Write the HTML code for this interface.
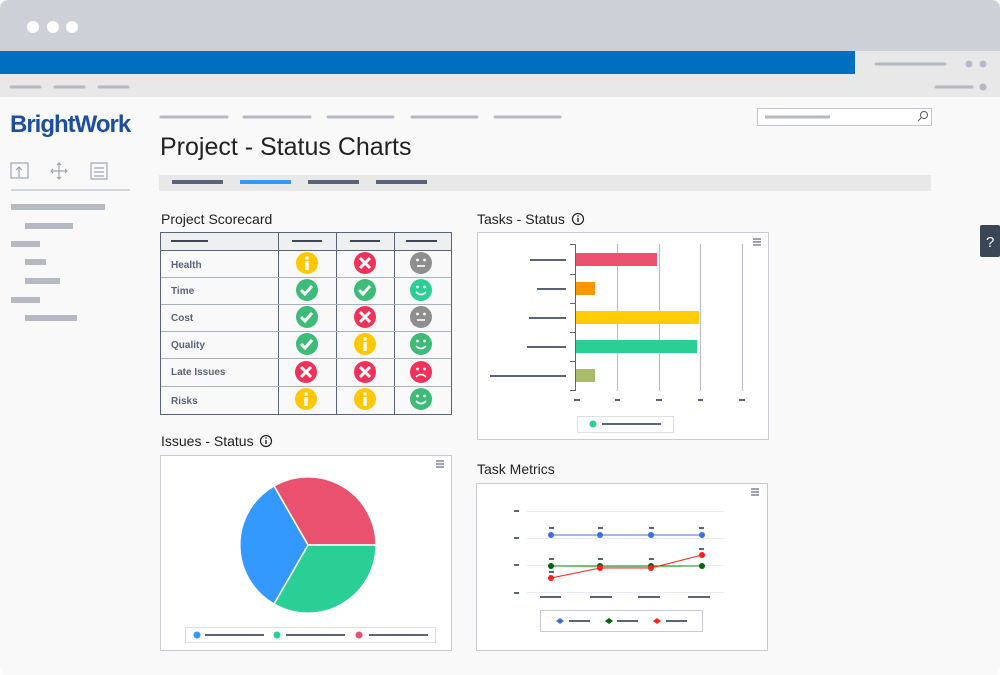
<!DOCTYPE html>
<html><head><meta charset="utf-8"><style>
html,body{margin:0;padding:0;background:#fff}
svg{display:block}
text{font-family:"Liberation Sans",sans-serif}
</style></head><body>
<svg width="1000" height="675" viewBox="0 0 1000 675" xmlns="http://www.w3.org/2000/svg">
<rect x="0" y="0" width="1000" height="675" rx="8" fill="#f9f9f9"/>
<path d="M0 8 a8 8 0 0 1 8 -8 H992 a8 8 0 0 1 8 8 V51 H0Z" fill="#cdd0d7"/>
<circle cx="33" cy="27" r="6" fill="#fff"/><circle cx="53" cy="27" r="6" fill="#fff"/><circle cx="72" cy="27" r="6" fill="#fff"/>
<rect x="0" y="51" width="1000" height="46" fill="#e8e8e8"/>
<rect x="0" y="51" width="855" height="23" fill="#006fc0"/>
<g stroke="#b5b9c2" stroke-width="3" stroke-linecap="round">
<line x1="876" y1="64" x2="945" y2="64"/><line x1="936" y1="87" x2="972" y2="87"/>
<line x1="11" y1="87" x2="40" y2="87"/><line x1="55" y1="87" x2="84" y2="87"/><line x1="99" y1="87" x2="128" y2="87"/>
<line x1="161" y1="117" x2="227" y2="117"/><line x1="244" y1="117" x2="310" y2="117"/><line x1="328" y1="117" x2="393" y2="117"/><line x1="412" y1="117" x2="477" y2="117"/><line x1="495" y1="117" x2="560" y2="117"/>
</g>
<g fill="#b5b9c2"><circle cx="969" cy="64" r="3.5"/><circle cx="983" cy="64" r="3.5"/><circle cx="983" cy="87" r="3.5"/></g>
<text x="10" y="132" font-size="24" font-weight="bold" fill="#1d4f9c" letter-spacing="-1">BrightWork</text>
<g fill="none" stroke="#a0a6b0" stroke-width="1.2">
<rect x="11" y="163" width="17" height="15"/><path d="M19 177v-10m-3 3 3-3 3 3"/>
<path d="M59 163v16M51 171h16M57 165l2-2 2 2M57 177l2 2 2-2M53 169l-2 2 2 2M65 169l2 2-2 2"/>
<rect x="91" y="163" width="16" height="16"/><path d="M94 168h10M94 172h10M94 176h10"/>
</g>
<line x1="11" y1="190" x2="130" y2="190" stroke="#a9b1c1" stroke-width="1"/>
<g stroke="#b5b9c2" stroke-width="6">
<line x1="11" y1="207" x2="105" y2="207"/><line x1="25" y1="226" x2="73" y2="226"/><line x1="11" y1="244" x2="40" y2="244"/><line x1="25" y1="262" x2="46" y2="262"/><line x1="25" y1="281" x2="60" y2="281"/><line x1="11" y1="300" x2="40" y2="300"/><line x1="25" y1="318" x2="77" y2="318"/>
</g>
<text x="160" y="155" font-size="25" fill="#222">Project - Status Charts</text>
<rect x="757.5" y="108.5" width="174" height="17" fill="#fff" stroke="#c3c6cc"/>
<line x1="765" y1="117" x2="830" y2="117" stroke="#b5b9c2" stroke-width="3"/>
<circle cx="924" cy="115" r="3.5" fill="none" stroke="#555" stroke-width="1"/><line x1="921" y1="118" x2="918" y2="121" stroke="#555"/>
<rect x="159" y="175" width="772" height="16" fill="#e8e8e8"/>
<g stroke-width="4"><line x1="172" y1="182" x2="223" y2="182" stroke="#5a6478"/><line x1="240" y1="182" x2="291" y2="182" stroke="#3399ff"/><line x1="308" y1="182" x2="359" y2="182" stroke="#5a6478"/><line x1="376" y1="182" x2="427" y2="182" stroke="#5a6478"/></g>
<rect x="980" y="225" width="20" height="32" rx="2" fill="#3a4556"/>
<text x="986" y="247" font-size="15" fill="#fff">?</text>
<text x="161" y="224" font-size="14" fill="#222">Project Scorecard</text>
<rect x="160.5" y="232.5" width="291" height="18" fill="#eeeff1"/>
<rect x="160.5" y="232.5" width="291" height="182" fill="none" stroke="#5a6478"/>
<g stroke="#5a6478"><line x1="278.5" y1="232" x2="278.5" y2="414"/><line x1="336.5" y1="232" x2="336.5" y2="414"/><line x1="394.5" y1="232" x2="394.5" y2="414"/><line x1="160" y1="250.5" x2="451" y2="250.5"/></g>
<g stroke="#a9b1bf"><line x1="161" y1="277.5" x2="451" y2="277.5"/><line x1="161" y1="304.5" x2="451" y2="304.5"/><line x1="161" y1="331.5" x2="451" y2="331.5"/><line x1="161" y1="358.5" x2="451" y2="358.5"/><line x1="161" y1="386.5" x2="451" y2="386.5"/></g>
<g stroke="#3f4757" stroke-width="2"><line x1="171" y1="241" x2="208" y2="241"/><line x1="292" y1="241" x2="322" y2="241"/><line x1="350" y1="241" x2="380" y2="241"/><line x1="406" y1="241" x2="437" y2="241"/></g>
<g font-size="10" font-weight="bold" fill="#5a6478">
<text x="171" y="268">Health</text><text x="171" y="294">Time</text><text x="171" y="321">Cost</text><text x="171" y="348">Quality</text><text x="171" y="375">Late Issues</text><text x="171" y="404">Risks</text></g>
<defs>
<g id="info"><circle r="11" fill="#ffc800"/><circle cy="-5" r="1.8" fill="#fff"/><rect x="-1.7" y="-2" width="3.4" height="9" fill="#fff"/></g>
<g id="x"><circle r="11" fill="#f0325a"/><path d="M-5-5L5 5M5-5L-5 5" stroke="#fff" stroke-width="3"/></g>
<g id="chk"><circle r="11" fill="#3dbb78"/><path d="M-6 0l4 4 7-8" fill="none" stroke="#fff" stroke-width="3"/></g>
<g id="neu"><circle r="11" fill="#8e8e8e"/><circle cx="-3.5" cy="-3" r="1.4" fill="#fff"/><circle cx="3.5" cy="-3" r="1.4" fill="#fff"/><line x1="-4" y1="3" x2="4" y2="3" stroke="#fff" stroke-width="1.6"/></g>
<g id="smT"><circle r="11" fill="#2bcf96"/><circle cx="-3.5" cy="-3" r="1.4" fill="#fff"/><circle cx="3.5" cy="-3" r="1.4" fill="#fff"/><path d="M-5 2q5 5 10 0" fill="none" stroke="#fff" stroke-width="1.6"/></g>
<g id="smG"><circle r="11" fill="#3dbb78"/><circle cx="-3.5" cy="-3" r="1.4" fill="#fff"/><circle cx="3.5" cy="-3" r="1.4" fill="#fff"/><path d="M-5 2q5 5 10 0" fill="none" stroke="#fff" stroke-width="1.6"/></g>
<g id="sad"><circle r="11" fill="#f0325a"/><circle cx="-3.5" cy="-3" r="1.4" fill="#fff"/><circle cx="3.5" cy="-3" r="1.4" fill="#fff"/><path d="M-5 5q5-5 10 0" fill="none" stroke="#fff" stroke-width="1.6"/></g>
<g id="menu" stroke="#5a6478" stroke-width="1.2"><line x1="-4" y1="-3" x2="4" y2="-3"/><line x1="-4" y1="0" x2="4" y2="0"/><line x1="-4" y1="3" x2="4" y2="3"/></g>
<g id="ii"><circle r="5.5" fill="none" stroke="#222" stroke-width="1.2"/><rect x="-0.7" y="-1" width="1.4" height="4" fill="#222"/><circle cy="-3" r="0.8" fill="#222"/></g>
</defs>
<use href="#info" x="307" y="263"/><use href="#x" x="365" y="263"/><use href="#neu" x="421" y="263"/>
<use href="#chk" x="307" y="290"/><use href="#chk" x="365" y="290"/><use href="#smT" x="421" y="290"/>
<use href="#chk" x="307" y="317"/><use href="#x" x="365" y="317"/><use href="#neu" x="421" y="317"/>
<use href="#chk" x="307" y="344"/><use href="#info" x="365" y="344"/><use href="#smG" x="421" y="344"/>
<use href="#x" x="306" y="372"/><use href="#x" x="365" y="372"/><use href="#sad" x="421" y="372"/>
<use href="#info" x="306" y="399"/><use href="#info" x="365" y="399"/><use href="#smG" x="421" y="399"/>
<text x="477" y="224" font-size="14" fill="#222">Tasks - Status</text><use href="#ii" x="578" y="219"/>
<rect x="477.5" y="232.5" width="291" height="207" fill="#fff" stroke="#c8ccd2"/>
<use href="#menu" x="757" y="242"/>
<g stroke="#b8bcc3"><line x1="617.5" y1="244" x2="617.5" y2="391"/><line x1="659.5" y1="244" x2="659.5" y2="391"/><line x1="700.5" y1="244" x2="700.5" y2="391"/><line x1="742.5" y1="244" x2="742.5" y2="391"/></g>
<g stroke="#5a6478"><line x1="575.5" y1="244" x2="575.5" y2="391"/><line x1="570" y1="244.5" x2="575" y2="244.5"/><line x1="570" y1="274.5" x2="575" y2="274.5"/><line x1="570" y1="303.5" x2="575" y2="303.5"/><line x1="570" y1="332.5" x2="575" y2="332.5"/><line x1="570" y1="361.5" x2="575" y2="361.5"/><line x1="570" y1="390.5" x2="575" y2="390.5"/></g>
<rect x="576" y="253" width="81" height="13" fill="#e9516e"/>
<rect x="576" y="282" width="19" height="13" fill="#ff9800"/>
<rect x="576" y="311" width="123" height="13" fill="#ffcc00"/>
<rect x="576" y="340" width="121" height="13" fill="#2acf96"/>
<rect x="576" y="369" width="19" height="13" fill="#a9bb6c"/>
<g stroke="#5a6478" stroke-width="2"><line x1="530" y1="260" x2="566" y2="260"/><line x1="537" y1="289" x2="566" y2="289"/><line x1="529" y1="318" x2="566" y2="318"/><line x1="527" y1="347" x2="566" y2="347"/><line x1="490" y1="376" x2="566" y2="376"/>
<line x1="574" y1="400" x2="580" y2="400"/><line x1="615" y1="400" x2="620" y2="400"/><line x1="656" y1="400" x2="662" y2="400"/><line x1="698" y1="400" x2="703" y2="400"/><line x1="739" y1="400" x2="745" y2="400"/></g>
<rect x="577.5" y="416.5" width="96" height="16" fill="#fff" stroke="#dcdfe3"/>
<circle cx="593" cy="424" r="3.5" fill="#2acf96"/><line x1="602" y1="424" x2="661" y2="424" stroke="#5a6478" stroke-width="2"/>
<text x="161" y="446" font-size="14" fill="#222">Issues - Status</text><use href="#ii" x="266" y="441"/>
<rect x="160.5" y="455.5" width="291" height="195" fill="#fff" stroke="#c8ccd2"/>
<use href="#menu" x="440" y="464"/>
<g stroke="#fff" stroke-width="1.5">
<path d="M308 545L274 486A68 68 0 0 1 376 545Z" fill="#e9516e"/>
<path d="M308 545L376 545A68 68 0 0 1 274 604Z" fill="#2acf96"/>
<path d="M308 545L274 604A68 68 0 0 1 274 486Z" fill="#3399ff"/></g>
<rect x="185.5" y="627.5" width="250" height="15" fill="#fff" stroke="#dcdfe3"/>
<circle cx="197" cy="635" r="3.5" fill="#3399ff"/><circle cx="277" cy="635" r="3.5" fill="#2acf96"/><circle cx="359" cy="635" r="3.5" fill="#e9516e"/>
<g stroke="#5a6478" stroke-width="2"><line x1="205" y1="635" x2="264" y2="635"/><line x1="286" y1="635" x2="345" y2="635"/><line x1="369" y1="635" x2="428" y2="635"/></g>
<text x="477" y="474" font-size="14" fill="#222">Task Metrics</text>
<rect x="476.5" y="483.5" width="291" height="167" fill="#fff" stroke="#c8ccd2"/>
<use href="#menu" x="755" y="492"/>
<g stroke="#e6ebf5"><line x1="527" y1="511.5" x2="724" y2="511.5"/><line x1="527" y1="538.5" x2="724" y2="538.5"/><line x1="527" y1="565.5" x2="724" y2="565.5"/><line x1="527" y1="592.5" x2="724" y2="592.5"/></g>
<g stroke="#5a6478" stroke-width="2">
<line x1="514" y1="511" x2="519" y2="511"/><line x1="514" y1="538" x2="519" y2="538"/><line x1="514" y1="565" x2="519" y2="565"/><line x1="514" y1="593" x2="519" y2="593"/>
<line x1="540" y1="597" x2="561" y2="597"/><line x1="590" y1="597" x2="612" y2="597"/><line x1="638" y1="597" x2="660" y2="597"/><line x1="688" y1="597" x2="710" y2="597"/>
<line x1="549" y1="528" x2="554" y2="528"/><line x1="598" y1="528" x2="603" y2="528"/><line x1="649" y1="528" x2="654" y2="528"/><line x1="699" y1="528" x2="704" y2="528"/>
<line x1="549" y1="559" x2="554" y2="559"/><line x1="598" y1="559" x2="603" y2="559"/><line x1="649" y1="559" x2="654" y2="559"/><line x1="699" y1="549" x2="704" y2="549"/><line x1="549" y1="572" x2="554" y2="572"/>
</g>
<polyline points="551,535 600,535 651,535 702,535" fill="none" stroke="#3b6fe0" stroke-width="1"/>
<polygon points="551,566 702,566 702,566 651,568 600,568" fill="#c8e0c0"/>
<polyline points="551,566 702,566" fill="none" stroke="#1e8c1e" stroke-width="1"/>
<polyline points="551,578 600,568 651,568 702,555" fill="none" stroke="#ff1f1f" stroke-width="1"/>
<g fill="#3b6fe0"><circle cx="551" cy="535" r="3"/><circle cx="600" cy="535" r="3"/><circle cx="651" cy="535" r="3"/><circle cx="702" cy="535" r="3"/></g>
<g fill="#006400"><circle cx="551" cy="566" r="3"/><circle cx="600" cy="566" r="3"/><circle cx="651" cy="566" r="3"/><circle cx="702" cy="566" r="3"/></g>
<g fill="#ff1f1f"><circle cx="551" cy="578" r="3"/><circle cx="600" cy="568" r="3"/><circle cx="651" cy="568" r="3"/><circle cx="702" cy="555" r="3"/></g>
<rect x="540.5" y="610.5" width="162" height="21" fill="#fff" stroke="#c8ccd2"/>
<path d="M556 621l4-3 4 3-4 3z" fill="#3b6fe0"/><path d="M605 621l4-3 4 3-4 3z" fill="#006400"/><path d="M653 621l4-3 4 3-4 3z" fill="#ff1f1f"/>
<g stroke="#5a6478" stroke-width="2"><line x1="569" y1="621" x2="590" y2="621"/><line x1="617" y1="621" x2="638" y2="621"/><line x1="666" y1="621" x2="687" y2="621"/></g>
</svg>
</body></html>
